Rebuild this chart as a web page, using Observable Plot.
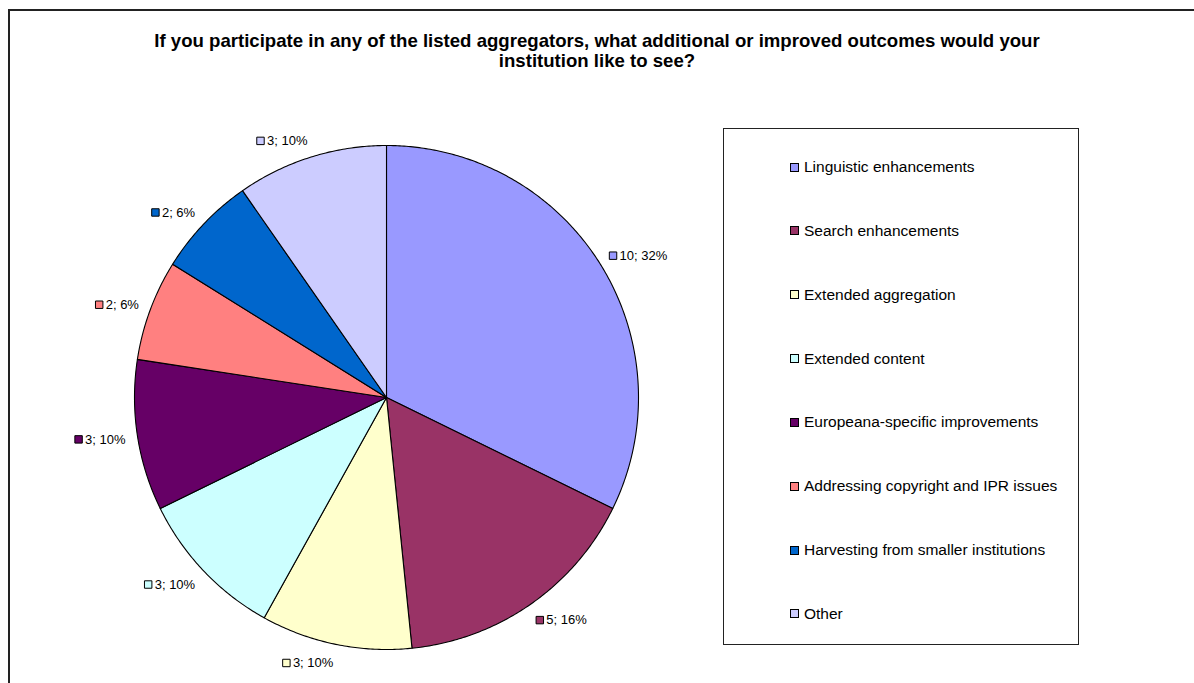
<!DOCTYPE html>
<html>
<head>
<meta charset="utf-8">
<script src="https://cdn.jsdelivr.net/npm/d3@7"></script>
<script src="https://cdn.jsdelivr.net/npm/@observablehq/plot@0.6"></script>
<style>
  html, body { margin: 0; padding: 0; background: #fff; }
  #page { position: relative; width: 1194px; height: 683px; overflow: hidden; background: #fff;
          font-family: "Liberation Sans", Arial, sans-serif; }
  #frame { position: absolute; left: 8px; top: 9px; right: -10px; bottom: -10px;
           border-top: 2px solid #222; border-left: 2px solid #222; }
  #title { position: absolute; left: 0; top: 31px; width: 1194px; text-align: center;
           font-weight: bold; font-size: 18.6px; line-height: 20px; color: #000; }
  #chart { position: absolute; left: 0; top: 0; }
  #legend { position: absolute; left: 723px; top: 128px; width: 354px; height: 515px;
            border: 1px solid #222; background: #fff; }
  .item { position: absolute; left: 66px; font-size: 15.5px; color: #000; white-space: nowrap;
          display: flex; align-items: center; height: 20px; }
  .sw { width: 7px; height: 7px; border: 1px solid #000; margin-right: 5px; }
</style>
</head>
<body>
<div id="page">
  <div id="chart"></div>
  <div id="frame"></div>
  <div id="title">If you participate in any of the listed aggregators, what additional or improved outcomes would your<br>institution like to see?</div>
  <div id="legend"></div>
</div>
<script>
// ---- data ----
const categories = [
  "Linguistic enhancements",
  "Search enhancements",
  "Extended aggregation",
  "Extended content",
  "Europeana-specific improvements",
  "Addressing copyright and IPR issues",
  "Harvesting from smaller institutions",
  "Other"
];
const counts = [10, 5, 3, 3, 3, 2, 2, 3];
const colors = ["#9999FF", "#993366", "#FFFFCC", "#CCFFFF", "#660066", "#FF8080", "#0066CC", "#CCCCFF"];

// ---- derived tables ----
const total = d3.sum(counts);
const rows = categories.map((c, i) => ({cat: c, count: counts[i]}));
const arcs = d3.pie().sort(null).value(d => d.count)(rows);

const pxPerUnit = 252; // radius in pixels (range below)
const polys = [];
for (const a of arcs) {
  polys.push({cat: a.data.cat, x: 0, y: 0});
  const n = Math.max(2, Math.ceil((a.endAngle - a.startAngle) / (Math.PI / 360)));
  for (let k = 0; k <= n; k++) {
    const t = a.startAngle + (a.endAngle - a.startAngle) * k / n;
    polys.push({cat: a.data.cat, x: Math.sin(t), y: Math.cos(t)});
  }
}

// labels
const ctx = document.createElement("canvas").getContext("2d");
ctx.font = "13px 'Liberation Sans', Arial, sans-serif";
const labels = arcs.map(a => {
  const m = (a.startAngle + a.endAngle) / 2;
  const s = Math.sin(m), c = Math.cos(m);
  const R = (pxPerUnit + 12) / pxPerUnit;
  const text = `${a.data.count}; ${Math.round(a.data.count / total * 100)}%`;
  const w = ctx.measureText(text).width / pxPerUnit;
  const px = R * s;
  const py = R * c + (c * 6 - 1) / pxPerUnit;
  const left = s >= 0 ? px - 2 / pxPerUnit : px - w - 11 / pxPerUnit;
  return {cat: a.data.cat, text, sqx: left + 4.5 / pxPerUnit, tx: left + 11 / pxPerUnit, y: py};
});

const plot = Plot.plot({
  width: 1194,
  height: 683,
  margin: 0,
  style: {background: "transparent", fontFamily: "'Liberation Sans', Arial, sans-serif", fontSize: "13px", color: "#000"},
  x: {domain: [-1, 1], range: [134, 638], axis: null},
  y: {domain: [-1, 1], range: [649, 145], axis: null},
  color: {domain: categories, range: colors},
  marks: [
    Plot.line(polys, {x: "x", y: "y", z: "cat", fill: "cat", stroke: "#000", strokeWidth: 1.1, curve: "linear-closed", strokeLinejoin: "round"}),
    Plot.dot(labels, {x: "sqx", y: "y", fill: "cat", stroke: "#000", strokeWidth: 1, symbol: "square", r: 4.2}),
    Plot.text(labels, {x: "tx", y: "y", text: "text", textAnchor: "start", fill: "#000", fontSize: 13})
  ]
});
document.getElementById("chart").appendChild(plot);

// legend (HTML) using the plot's colour scale
const color = plot.scale("color");
const legend = document.getElementById("legend");
categories.forEach((c, i) => {
  const item = document.createElement("div");
  item.className = "item";
  item.style.top = (166 - 128 - 10 + i * 63.85) + "px";
  const sw = document.createElement("div");
  sw.className = "sw";
  sw.style.background = color.range[color.domain.indexOf(c)];
  const t = document.createElement("span");
  t.textContent = c;
  item.appendChild(sw);
  item.appendChild(t);
  legend.appendChild(item);
});
</script>
</body>
</html>
